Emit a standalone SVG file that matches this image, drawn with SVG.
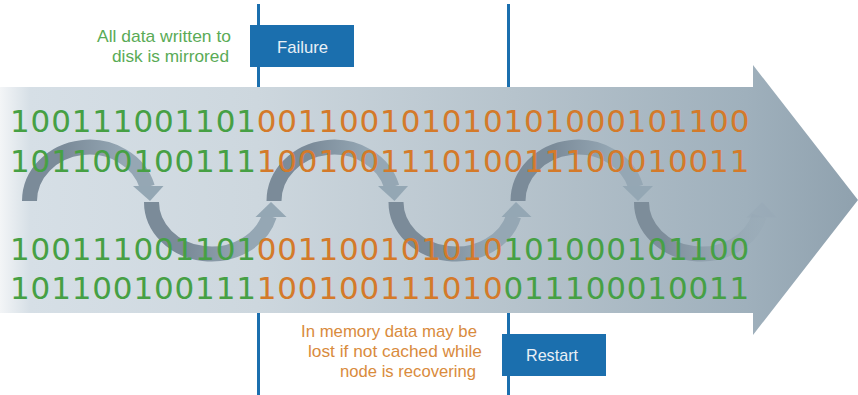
<svg xmlns="http://www.w3.org/2000/svg" width="858" height="395" viewBox="0 0 858 395">
<defs>
<linearGradient id="bg" gradientUnits="userSpaceOnUse" x1="0" y1="0" x2="858" y2="0">
<stop offset="0" stop-color="#f3f5f7"/>
<stop offset="0.035" stop-color="#d6dfe6"/>
<stop offset="0.3" stop-color="#cdd7de"/>
<stop offset="0.6" stop-color="#b6c3cc"/>
<stop offset="0.87" stop-color="#9fb0bc"/>
<stop offset="1" stop-color="#8fa1ae"/>
</linearGradient>
<linearGradient id="arcg" x1="0" y1="0" x2="1" y2="0">
<stop offset="0.3" stop-color="#7b8b99"/>
<stop offset="0.8" stop-color="#95a7b4"/>
</linearGradient>
<linearGradient id="arcf" x1="0" y1="0" x2="1" y2="0">
<stop offset="0.2" stop-color="#7d8d9a" stop-opacity="1"/>
<stop offset="1" stop-color="#95a7b4" stop-opacity="0.3"/>
</linearGradient>
<style>
.bin{font-family:"DejaVu Sans","Liberation Sans",sans-serif;font-size:31px;letter-spacing:0.84px}
.g{fill:#46a044}
.o{fill:#d47a2a}
.lbl{font-family:"Liberation Sans",Arial,sans-serif;font-size:17px}
.box{fill:#1b6fae}
.vl{stroke:#1b6fae;stroke-width:3}
.arc{fill:none;stroke:url(#arcg);stroke-width:15}
.head{fill:#94a7b4}
</style>
</defs>
<g id="big-arrow">
<polygon points="0,87 753,87 753,65 858,200 753,335 753,313 0,313" fill="url(#bg)"/>
</g>
<g id="connectors">
<line class="vl" x1="258.5" y1="4" x2="258.5" y2="87"/>
<line class="vl" x1="508.5" y1="4" x2="508.5" y2="87"/>
<line class="vl" x1="258.5" y1="313" x2="258.5" y2="395"/>
<line class="vl" x1="508.5" y1="313" x2="508.5" y2="395"/>
<path class="arc" d="M29.5 201 A60 54 0 0 1 147.4 187"/>
<polygon class="head" points="133,186 163.5,186 150,201"/>
<path class="arc" d="M151.5 202 A60 52 0 0 0 269.3 216"/>
<polygon class="head" points="255.5,217 286.5,217 271,202"/>
<path class="arc" d="M274 201 A60 54 0 0 1 391.9 187"/>
<polygon class="head" points="378,186 408,186 394.5,201"/>
<path class="arc" d="M396 202 A60 52 0 0 0 513.8 216"/>
<polygon class="head" points="501.5,217 531.5,217 516,202"/>
<path class="arc" d="M518 201 A60 54 0 0 1 635.9 187"/>
<polygon class="head" points="622.5,186 653,186 638,201"/>
<path d="M641.5 202 A60 52 0 0 0 759.3 216" fill="none" stroke="url(#arcf)" stroke-width="15"/>
<polygon points="746.5,217.5 776.5,217.5 762,202.5" fill="#95a7b4" fill-opacity="0.35"/>
</g>
<g id="binary">
<text class="bin" y="132"><tspan class="g" x="10">100111001101</tspan><tspan class="o" x="256.7">001100101010101000101100</tspan></text>
<text class="bin" y="172"><tspan class="g" x="10">101100100111</tspan><tspan class="o" x="256.7">100100111010011100010011</tspan></text>
<text class="bin" y="260"><tspan class="g" x="10">100111001101</tspan><tspan class="o" x="256.7">001100101010</tspan><tspan class="g" x="503.4">101000101100</tspan></text>
<text class="bin" y="299"><tspan class="g" x="10">101100100111</tspan><tspan class="o" x="256.7">100100111010</tspan><tspan class="g" x="503.4">011100010011</tspan></text>
</g>
<g id="mirror-note">
<text class="lbl" fill="#5aab56" x="97" y="42" textLength="134" lengthAdjust="spacingAndGlyphs">All data written to</text>
<text class="lbl" fill="#5aab56" x="112" y="62" textLength="117" lengthAdjust="spacingAndGlyphs">disk is mirrored</text>
</g>
<g id="failure">
<rect class="box" x="250" y="25" width="104" height="42"/>
<text class="lbl" fill="#e9f0f6" x="277" y="53" textLength="51" lengthAdjust="spacingAndGlyphs">Failure</text>
</g>
<g id="memory-note">
<text class="lbl" fill="#d98b3d" x="301" y="337" textLength="176" lengthAdjust="spacingAndGlyphs">In memory data may be</text>
<text class="lbl" fill="#d98b3d" x="308" y="357" textLength="174" lengthAdjust="spacingAndGlyphs">lost if not cached while</text>
<text class="lbl" fill="#d98b3d" x="340" y="377" textLength="136" lengthAdjust="spacingAndGlyphs">node is recovering</text>
</g>
<g id="restart">
<rect class="box" x="502" y="334" width="104" height="42"/>
<text class="lbl" fill="#e9f0f6" x="526" y="361" textLength="52" lengthAdjust="spacingAndGlyphs">Restart</text>
</g>
</svg>
